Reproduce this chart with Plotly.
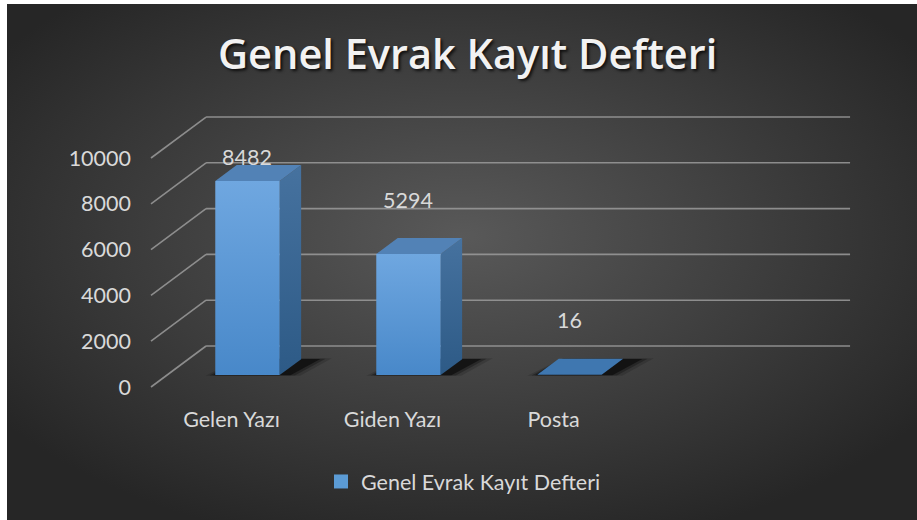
import base64
import plotly.graph_objects as go

# ---------------- data ----------------
categories = ["Gelen Yazı", "Giden Yazı", "Posta"]
values = [8482, 5294, 16]
series_name = "Genel Evrak Kayıt Defteri"
title_text = "Genel Evrak Kayıt Defteri"
y_tick_values = [0, 2000, 4000, 6000, 8000, 10000]
y_tick_labels = ["0", "2000", "4000", "6000", "8000", "10000"]

# ---------------- oblique 3D projection constants (axis units) ----------------
DEPTH_DX = 0.342      # x shift (category units) for full floor depth
DEPTH_DY = 1790       # y shift (value units) for full floor depth
BAR_D0, BAR_D1 = 0.29, 0.68   # bar front / back depth fraction
BAR_W = 0.40                  # bar width (category units)
N_SLOTS = 4                   # floor width in category slots
LABEL_OFF, LABEL_MAX = 2890, 10040

W, H = 917, 520
X_RANGE = [-1.4379, 4.2578]
Y_RANGE = [-5808, 16900]

FONT = "Lato"
TXT = "#d9d9d9"
FS = 21.5


def P(x, v, d):
    """project (category x, value v, depth d) to axis coords"""
    return x + d * DEPTH_DX, v + d * DEPTH_DY


fig = go.Figure()

# ---- gridlines: back wall horizontals + left-side diagonals ----
gx, gy = [], []
for v in y_tick_values:
    x0, y0 = P(-0.5, v, 1)
    x1, y1 = P(-0.5 + N_SLOTS, v, 1)
    gx += [x0, x1, None]
    gy += [y0, y1, None]
    xa, ya = P(-0.5, v, 0)
    gx += [xa, x0, None]
    gy += [ya, y0, None]
fig.add_trace(go.Scatter(x=gx, y=gy, mode="lines",
                         line=dict(color="rgba(155,155,155,0.85)", width=1.6),
                         hoverinfo="skip", showlegend=False))


def poly(pts, **kw):
    xs = [p[0] for p in pts] + [pts[0][0]]
    ys = [p[1] for p in pts] + [pts[0][1]]
    fig.add_trace(go.Scatter(x=xs, y=ys, mode="lines", fill="toself",
                             hoverinfo="skip", showlegend=False, **kw))


for i, v in enumerate(values):
    xl, xr = i - BAR_W / 2, i + BAR_W / 2
    # soft shadows on the floor
    for grow, op in [(0.07, 0.15), (0.04, 0.28), (0.015, 0.5)]:
        pts = [P(xl - grow * 0.8, 0, BAR_D0 - grow * 0.25),
               P(xr + grow * 1.2 + 0.05, 0, BAR_D0 - grow * 0.25),
               P(xr + grow * 1.2 + 0.10, 0, BAR_D1 + grow * 0.3),
               P(xl + 0.02, 0, BAR_D1 + grow * 0.3)]
        poly(pts, line=dict(width=0), fillcolor=f"rgba(0,0,0,{op})")
    # side face
    side = [P(xr, 0, BAR_D0), P(xr, 0, BAR_D1), P(xr, v, BAR_D1), P(xr, v, BAR_D0)]
    poly(side, line=dict(width=0),
         fillgradient=dict(type="vertical",
                           start=P(xr, 0, BAR_D0)[1], stop=P(xr, v, BAR_D1)[1],
                           colorscale=[[0, "#2d5a86"], [1, "#46729f"]]))
    # top face
    top = [P(xl, v, BAR_D0), P(xr, v, BAR_D0), P(xr, v, BAR_D1), P(xl, v, BAR_D1)]
    poly(top, line=dict(width=0), fillcolor="#5282b6" if v > 100 else "#3f77b0")
    # front face
    if v > 0:
        front = [P(xl, 0, BAR_D0), P(xr, 0, BAR_D0), P(xr, v, BAR_D0), P(xl, v, BAR_D0)]
        y_bot = P(xl, 0, BAR_D0)[1]
        y_top = P(xl, v, BAR_D0)[1]
        poly(front, line=dict(width=0),
             fillgradient=dict(type="vertical", start=y_bot, stop=y_top,
                               colorscale=[[0, "#4888c9"], [1, "#6fa7e0"]]))
    # data label
    lx, _ = P(i, 0, BAR_D0)
    fig.add_annotation(x=lx, y=min(v + LABEL_OFF, LABEL_MAX), text=str(v),
                       showarrow=False, xanchor="center", yanchor="middle",
                       font=dict(family=FONT, size=FS, color=TXT))

# legend entry
fig.add_trace(go.Scatter(x=[None], y=[None], name=series_name, mode="markers",
                         marker=dict(symbol="square", size=14, color="#5b9bd5",
                                     line=dict(width=0))))

# background radial gradient
svg = ("<svg xmlns='http://www.w3.org/2000/svg' width='910' height='516'>"
       "<defs><radialGradient id='g' cx='50%' cy='45%' r='62%'>"
       "<stop offset='0' stop-color='#595959'/>"
       "<stop offset='1' stop-color='#262626'/></radialGradient></defs>"
       "<rect width='910' height='516' fill='url(#g)'/></svg>")
src = "data:image/svg+xml;base64," + base64.b64encode(svg.encode()).decode()

fig.update_layout(
    width=W, height=H, autosize=False,
    margin=dict(l=0, r=0, t=0, b=0, pad=0),
    paper_bgcolor="#262626", plot_bgcolor="rgba(0,0,0,0)",
    images=[dict(source=src, xref="paper", yref="paper", x=7 / W, y=1 - 4 / H,
                 sizex=(W - 7) / W, sizey=(H - 4) / H, xanchor="left", yanchor="top",
                 sizing="stretch", layer="below")],
    shapes=[dict(type="rect", xref="paper", yref="paper", x0=0, x1=7 / W, y0=0, y1=1,
                 fillcolor="white", line=dict(width=0), layer="above"),
            dict(type="rect", xref="paper", yref="paper", x0=0, x1=1, y0=1 - 4 / H, y1=1,
                 fillcolor="white", line=dict(width=0), layer="above")],
    xaxis=dict(range=X_RANGE, domain=[0, 1], anchor="free", position=0.223,
               tickmode="array", tickvals=list(range(len(categories))), ticktext=categories,
               showgrid=False, zeroline=False, showline=False, ticks="",
               tickfont=dict(family=FONT, size=FS, color=TXT), fixedrange=True),
    yaxis=dict(range=Y_RANGE, domain=[0, 1], anchor="free", position=131 / W,
               tickmode="array", tickvals=y_tick_values, ticktext=y_tick_labels,
               showgrid=False, zeroline=False, showline=False, ticks="",
               tickfont=dict(family=FONT, size=FS, color=TXT), fixedrange=True),
    showlegend=True,
    legend=dict(orientation="h", x=321 / W, y=1 - 461 / H, xanchor="left", yanchor="top",
                bgcolor="rgba(0,0,0,0)", font=dict(family=FONT, size=FS, color=TXT)),
    annotations=list(fig.layout.annotations) + [
        dict(text=title_text, xref="paper", yref="paper",
             x=467 / W, y=1 - 53 / H, xanchor="center", yanchor="middle", showarrow=False,
             font=dict(family="Open Sans", size=41.5, weight=600, color="#f2f2f2",
                       shadow="2px 2px 3px rgba(0,0,0,0.75)"))],
)

fig.write_html("out.html", config={"displayModeBar": False},
               post_script="document.body.style.margin='0';")
